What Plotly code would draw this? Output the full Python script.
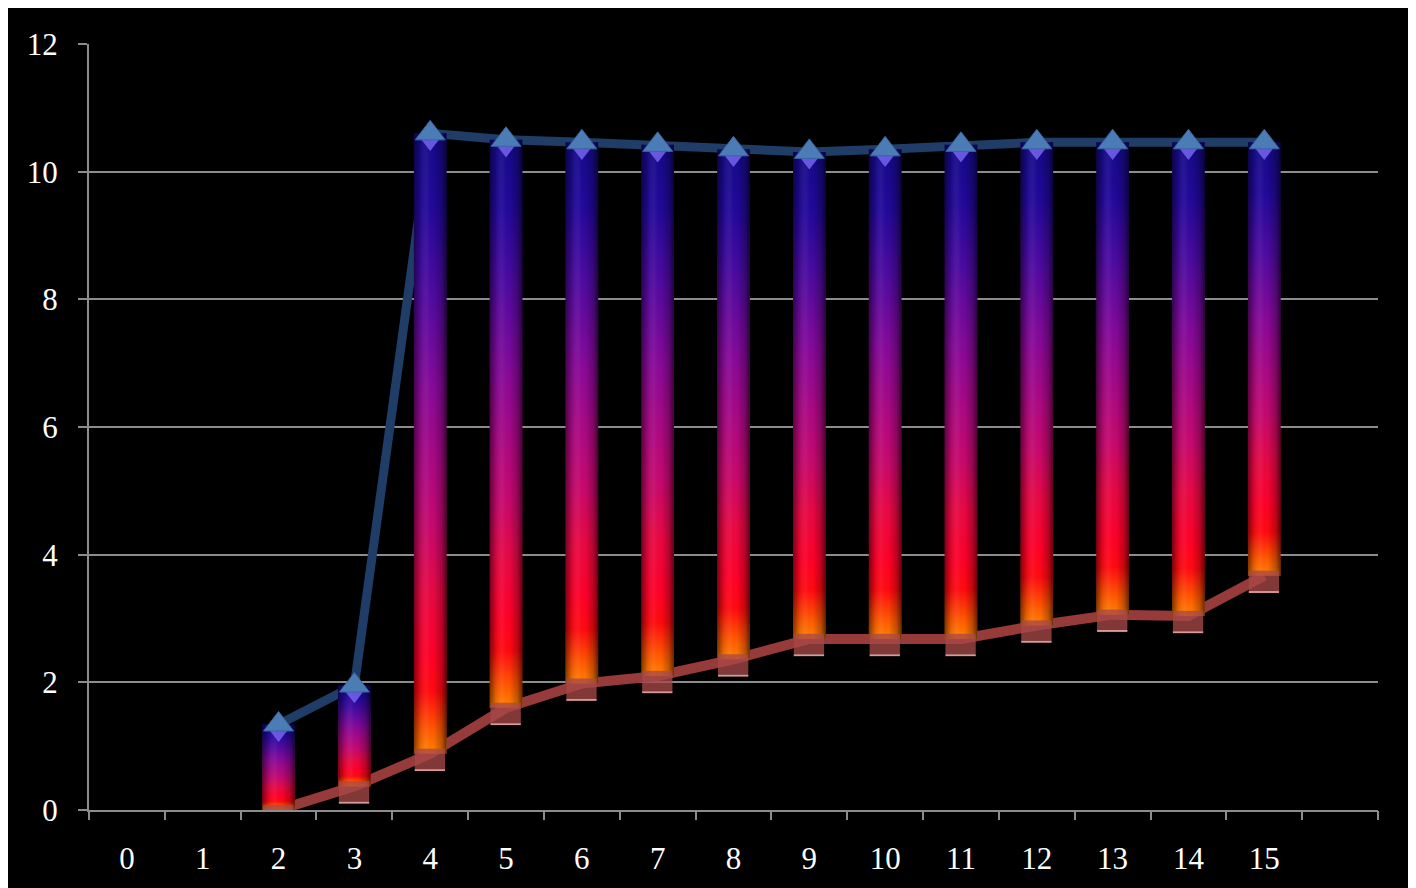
import plotly.graph_objects as go

categories = list(range(16))
high = [None, None, 1.34, 1.95, 10.6, 10.5, 10.46, 10.42, 10.35, 10.31, 10.35, 10.42, 10.46, 10.46, 10.46, 10.46]
low = [None, None, 0.0, 0.37, 0.88, 1.6, 1.98, 2.1, 2.36, 2.68, 2.68, 2.68, 2.89, 3.06, 3.04, 3.67]
y_ticks = [0, 2, 4, 6, 8, 10, 12]

BAR_HALF = 0.215
GRID = "#8c8c8c"
FONT = dict(family="Liberation Serif, Times New Roman, serif", size=31, color="white")

bar_scale = [
    [0.0, "#ff8200"], [0.04, "#ff5800"], [0.1, "#ff0a10"], [0.16, "#ff0028"],
    [0.26, "#e80844"], [0.36, "#c8086c"], [0.45, "#b00880"], [0.6, "#84099a"],
    [0.75, "#4c0aa0"], [0.88, "#22089a"], [1.0, "#140a88"],
]
shade_scale = [
    [0.0, "rgba(0,0,0,0.5)"], [0.18, "rgba(0,0,0,0.12)"], [0.4, "rgba(255,255,255,0.05)"],
    [0.6, "rgba(0,0,0,0.0)"], [0.85, "rgba(0,0,0,0.25)"], [1.0, "rgba(0,0,0,0.6)"],
]

fig = go.Figure()

pts = [(c, h, l) for c, h, l in zip(categories, high, low) if h is not None]
xs = [p[0] for p in pts]
hs = [p[1] for p in pts]
ls = [p[2] for p in pts]

# connecting lines (behind bars)
fig.add_trace(go.Scatter(x=xs, y=hs, mode="lines", line=dict(color="#1f3d66", width=9),
                         hoverinfo="skip", showlegend=False, cliponaxis=False))
fig.add_trace(go.Scatter(x=xs, y=ls, mode="lines", line=dict(color="#963a3a", width=10),
                         hoverinfo="skip", showlegend=False, cliponaxis=False))

# gradient bars
for c, h, l in pts:
    bx = [c - BAR_HALF, c + BAR_HALF, c + BAR_HALF, c - BAR_HALF, c - BAR_HALF]
    by = [l, l, h, h, l]
    fig.add_trace(go.Scatter(x=bx, y=by, mode="lines", fill="toself", line=dict(width=0),
                             fillgradient=dict(type="vertical", colorscale=bar_scale),
                             hoverinfo="skip", showlegend=False))
    fig.add_trace(go.Scatter(x=bx, y=by, mode="lines", fill="toself", line=dict(width=0),
                             fillgradient=dict(type="horizontal", colorscale=shade_scale),
                             hoverinfo="skip", showlegend=False))
    # bottom cap
    cx = [c - BAR_HALF + 0.01, c + BAR_HALF - 0.02, c + BAR_HALF - 0.02, c - BAR_HALF + 0.01, c - BAR_HALF + 0.01]
    fig.add_trace(go.Scatter(x=cx, y=[l - 0.24, l - 0.24, l + 0.08, l + 0.08, l - 0.24], mode="lines",
                             fill="toself", fillcolor="rgba(168,72,72,0.78)", line=dict(width=0),
                             hoverinfo="skip", showlegend=False))
    fig.add_trace(go.Scatter(x=cx, y=[l - 0.27, l - 0.27, l - 0.24, l - 0.24, l - 0.27], mode="lines",
                             fill="toself", fillcolor="rgba(240,170,170,0.9)", line=dict(width=0),
                             hoverinfo="skip", showlegend=False))

# lavender highlight at bar top
fig.add_trace(go.Scatter(x=xs, y=[h - 0.12 for h in hs], mode="markers",
                         marker=dict(symbol="triangle-down", size=20, color="rgba(125,105,245,0.8)",
                                     line=dict(width=0)),
                         hoverinfo="skip", showlegend=False, cliponaxis=False))
# triangle markers at high values
fig.add_trace(go.Scatter(x=xs, y=hs, mode="markers",
                         marker=dict(symbol="triangle-up", size=26, color="#4c7cb6",
                                     line=dict(width=1, color="#3a64a0")),
                         hoverinfo="skip", showlegend=False, cliponaxis=False))

# tick marks at category boundaries via overlay axis
fig.add_trace(go.Scatter(x=[-0.5, 16.5], y=[None, None], xaxis="x2", mode="markers",
                         hoverinfo="skip", showlegend=False))

W, H = 1408, 880
L, R, T, B = 81, 38, 36, 75

fig.update_layout(
    width=W, height=H,
    margin=dict(l=L, r=R, t=T, b=B),
    paper_bgcolor="black",
    plot_bgcolor="black",
    font=FONT,
    showlegend=False,
    xaxis=dict(range=[-0.5, 16.5], tickvals=categories, ticktext=[str(c) for c in categories],
               showgrid=False, zeroline=False, showline=True, linecolor=GRID, linewidth=2,
               ticks="", ticklabelstandoff=20, tickfont=FONT, fixedrange=True),
    xaxis2=dict(range=[-0.5, 16.5], overlaying="x", side="bottom", anchor="y",
                tickvals=[i - 0.5 for i in range(18)], ticks="outside", ticklen=9, tickwidth=2,
                tickcolor=GRID, showticklabels=False, showgrid=False, zeroline=False,
                showline=False),
    yaxis=dict(range=[0, 12], tickvals=y_ticks, showgrid=True, gridcolor=GRID, gridwidth=2,
               zeroline=False, showline=True, linecolor=GRID, linewidth=2,
               ticks="outside", ticklen=9, tickwidth=2, tickcolor=GRID,
               ticklabelstandoff=14, tickfont=FONT, fixedrange=True),
)

fig.write_html("out.html")
